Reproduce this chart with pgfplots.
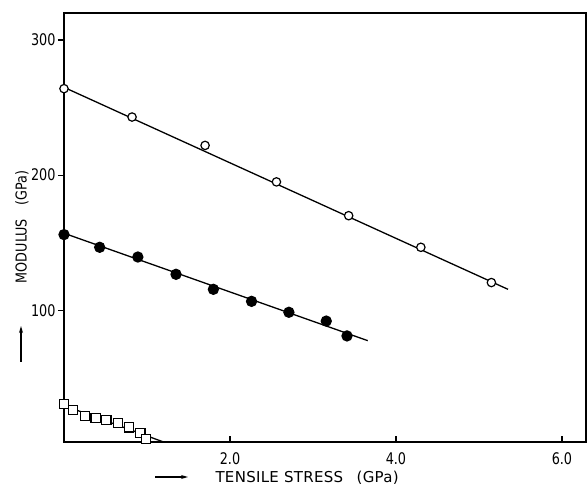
\documentclass[border=0pt]{standalone}
\usepackage{fontspec}
\setmainfont{DejaVu Sans}[FakeStretch=0.8]
\newfontfamily\xlabfont{DejaVu Sans}[LetterSpace=2]
\newfontfamily\ylabfont{DejaVu Sans}[FakeStretch=0.85]
\usepackage{pgfplots}
\pgfplotsset{compat=1.18}
\usetikzlibrary{arrows.meta}

\begin{document}
\begin{tikzpicture}
\begin{axis}[
  scale only axis, width=522bp, height=429bp,
  xmin=0, xmax=6.29, ymin=2.5, ymax=320,
  axis line style={line width=1.4bp},
  xtick={2,4,6}, xticklabels={2.0,4.0,6.0},
  ytick={100,200,300}, yticklabels={100,200,300},
  xtick pos=bottom, ytick pos=left,
  xtick align=inside, ytick align=outside,
  major tick length=6bp,
  tick style={line width=1.2bp, black},
  tick label style={font=\fontsize{16bp}{18bp}\selectfont},
  xticklabel style={yshift=-7bp},
  yticklabel style={xshift=1bp},
  every axis plot/.append style={line width=1.3bp, black},
]
% fitted lines
\addplot[no marks] coordinates {(0,265) (5.35,115.5)};
\addplot[no marks] coordinates {(0,157) (3.66,77.5)};
\addplot[no marks] coordinates {(0,29.5) (1.2,2.5)};
% open circles
\addplot[only marks, mark=*, mark size=4.2bp, mark options={fill=white, line width=1.2bp}]
  coordinates {(0,264) (0.82,243) (1.70,222) (2.56,195) (3.43,170) (4.30,146.6) (5.15,120.5)};
% filled circles
\addplot[only marks, mark=*, mark size=5bp]
  coordinates {(0,156) (0.43,146.6) (0.89,139.4) (1.35,126.6) (1.80,115.5) (2.26,106.6) (2.71,98.5) (3.16,92) (3.41,81)};
% squares
\addplot[only marks, mark=square*, mark size=4.6bp, mark options={fill=white, line width=1.2bp}]
  coordinates {(0,30.5) (0.11,26.1) (0.25,21.9) (0.38,20.4) (0.51,18.7) (0.65,16.7) (0.78,13.3) (0.92,9.3) (0.99,4.9)};
\end{axis}
% axis labels
\node[anchor=west, font=\fontsize{15bp}{17bp}\xlabfont] at ([shift={(148bp,-36bp)}]current axis.south west)
  {TENSILE STRESS\hspace{0.9em}(GPa)};
\draw[line width=1.3bp, -{Stealth[length=7bp,width=4bp]}] ([shift={(91bp,-35bp)}]current axis.south west) -- ([shift={(124bp,-35bp)}]current axis.south west);
\node[rotate=90, font=\fontsize{15bp}{17bp}\ylabfont] at ([shift={(-42bp,215bp)}]current axis.south west)
  {MODULUS\hspace{0.9em}(GPa)};
\draw[line width=1.3bp, -{Stealth[length=7bp,width=4bp]}] ([shift={(-43bp,80bp)}]current axis.south west) -- ([shift={(-43bp,116bp)}]current axis.south west);
\pgfresetboundingbox
\path ([shift={(-64bp,-46bp)}]current axis.south west) rectangle ([shift={(1bp,13bp)}]current axis.north east);
\end{tikzpicture}
\end{document}
